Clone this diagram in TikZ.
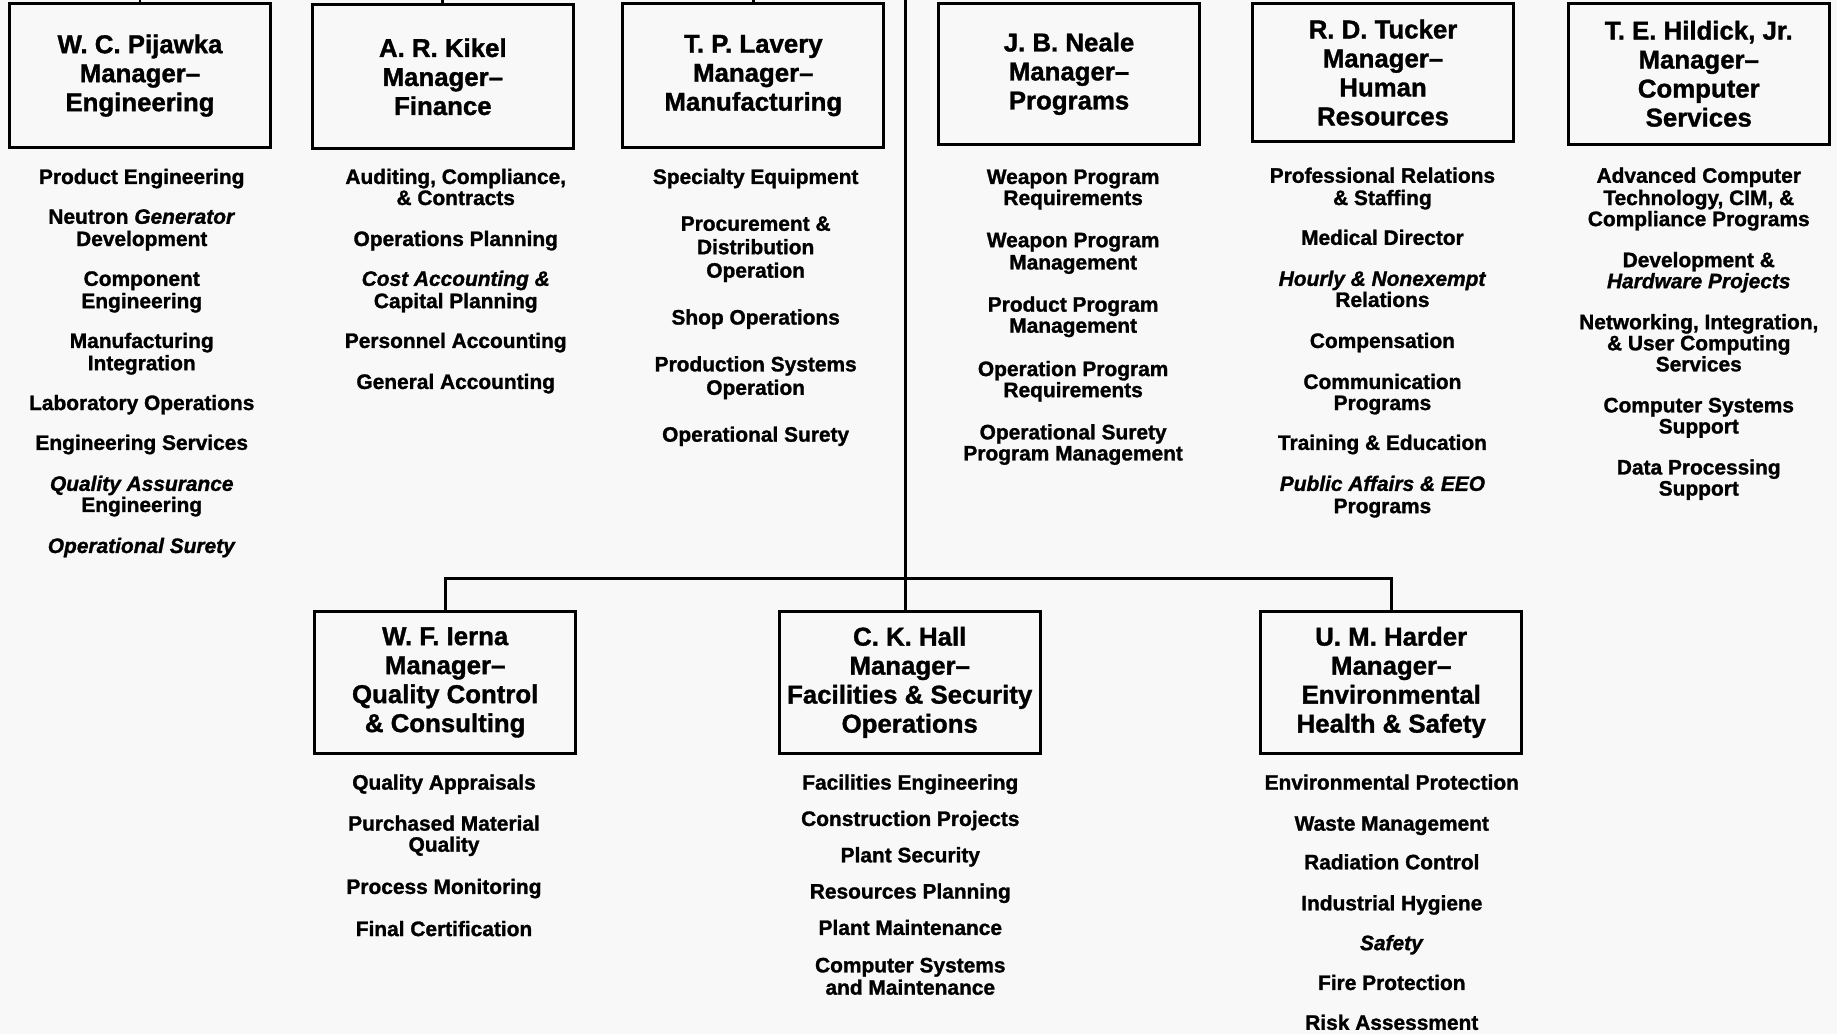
\documentclass[tikz,border=0pt]{standalone}
\usepackage{fontspec}
\setmainfont{Liberation Sans}[BoldFeatures={FakeBold=1.3}, BoldItalicFeatures={FakeBold=1.3}]
\definecolor{paper}{RGB}{247,248,247}
\newcommand{\dutylist}[3]{%
  \foreach \yy/\txt [count=\nn] in {#3}
    \node[item] (#1-\nn) at (#2,\yy+6) {\txt};%
}
\begin{document}
\begin{tikzpicture}[x=1.1716pt,y=-1.1716pt,
  mgr/.style={draw, line width=2.8pt, minimum width=261pt, minimum height=144pt,
    inner sep=0pt, align=center, font=\fontsize{25.8pt}{29pt}\selectfont\bfseries},
  item/.style={anchor=base, inner sep=0pt, font=\fontsize{20.9pt}{22pt}\selectfont\bfseries},
  link/.style={line width=2.8pt, line join=miter}]
\fill[paper] (0,0) rectangle (1568,883);
\useasboundingbox (0,0) rectangle (1568,883);

% managers, top row
\node[mgr] (pij) at (119.5,64.5) {W. C. Pijawka\\Manager–\\Engineering};
\node[mgr] (kik) at (378,65.5) {A. R. Kikel\\Manager–\\Finance};
\node[mgr] (lav) at (643,64.5) {T. P. Lavery\\Manager–\\Manufacturing};
\node[mgr, minimum height=141pt] (nea) at (912.5,63) {J. B. Neale\\Manager–\\Programs};
\node[mgr, minimum height=138pt] (tuc) at (1180.5,62) {R. D. Tucker\\Manager–\\Human\\Resources};
\node[mgr, minimum height=141pt] (hil) at (1450,63) {T. E. Hildick, Jr.\\Manager–\\Computer\\Services};

% managers, bottom row
\node[mgr, minimum height=142pt] (ier) at (380,582.5) {W. F. Ierna\\Manager–\\Quality Control\\\& Consulting};
\node[mgr, minimum height=142pt] (hal) at (776.5,582.5) {C. K. Hall\\Manager–\\Facilities \& Security\\Operations};
\node[mgr, minimum height=142pt] (har) at (1187.5,582.5) {U. M. Harder\\Manager–\\Environmental\\Health \& Safety};

% connectors
\coordinate (topedge) at (0,0);
\coordinate (spine) at (773,0);
\coordinate (bus) at (773,494);
\draw[link] (spine) -- (spine |- hal.north);
\draw[link] (ier.north) |- (bus) -| (har.north);
\draw[link] (pij.north) -- (pij.north |- topedge);
\draw[link] (kik.north) -- (kik.north |- topedge);
\draw[link] (lav.north) -- (lav.north |- topedge);

% duties
\dutylist{pijd}{121}{151/Product Engineering, 185/{Neutron \textit{Generator}}, 204/Development,
  238/Component, 257/Engineering, 291/Manufacturing, 310/Integration,
  344/Laboratory Operations, 378/Engineering Services, 413/\textit{Quality Assurance},
  431/Engineering, 466/\textit{Operational Surety}}
\dutylist{kikd}{389}{151/{Auditing, Compliance,}, 169/\& Contracts, 204/Operations Planning,
  238/\textit{Cost Accounting \&}, 257/Capital Planning, 291/Personnel Accounting,
  326/General Accounting}
\dutylist{lavd}{645}{151/Specialty Equipment, 191/Procurement \&, 211/Distribution,
  231/Operation, 271/Shop Operations, 311/Production Systems, 331/Operation,
  371/Operational Surety}
\dutylist{nead}{916}{151/Weapon Program, 169/Requirements, 205/Weapon Program,
  224/Management, 260/Product Program, 278/Management, 315/Operation Program,
  333/Requirements, 369/Operational Surety, 387/Program Management}
\dutylist{tucd}{1180}{150/Professional Relations, 169/\& Staffing, 203/Medical Director,
  238/\textit{Hourly \& Nonexempt}, 256/Relations, 291/Compensation, 326/Communication,
  344/Programs, 378/Training \& Education, 413/\textit{Public Affairs \& EEO}, 432/Programs}
\dutylist{hild}{1450}{150/Advanced Computer, 169/{Technology, CIM, \&}, 187/Compliance Programs,
  222/Development \&, 240/\textit{Hardware Projects}, 275/{Networking, Integration,},
  293/\& User Computing, 311/Services, 346/Computer Systems, 364/Support,
  399/Data Processing, 417/Support}
\dutylist{ierd}{379}{668/Quality Appraisals, 703/Purchased Material, 721/Quality,
  757/Process Monitoring, 793/Final Certification}
\dutylist{hald}{777}{668/Facilities Engineering, 699/Construction Projects, 730/Plant Security,
  761/Resources Planning, 792/Plant Maintenance, 824/Computer Systems, 843/and Maintenance}
\dutylist{hard}{1188}{668/Environmental Protection, 703/Waste Management, 736/Radiation Control,
  771/Industrial Hygiene, 805/\textit{Safety}, 839/Fire Protection, 873/Risk Assessment}
\end{tikzpicture}
\end{document}
